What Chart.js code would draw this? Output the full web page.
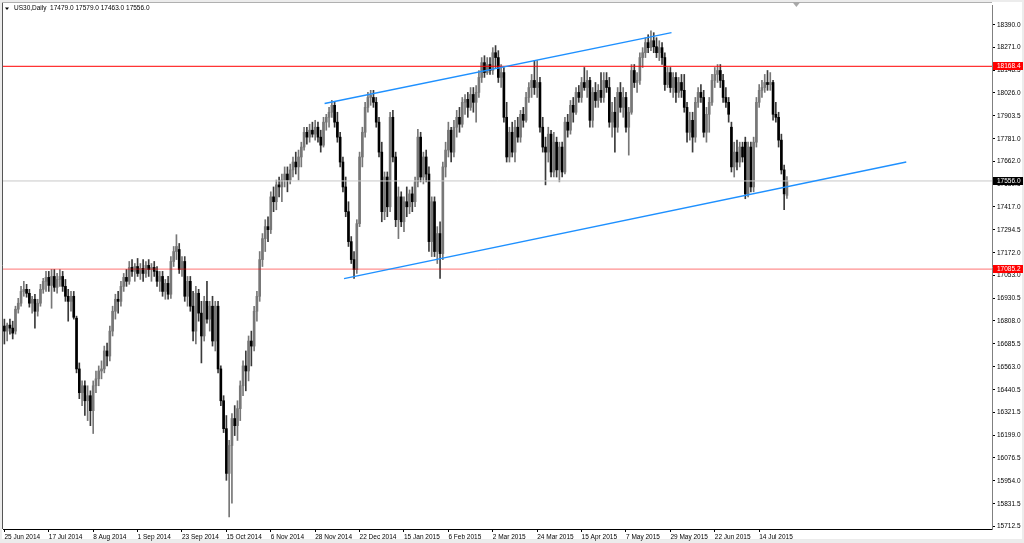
<!DOCTYPE html>
<html><head><meta charset="utf-8">
<script src="https://cdn.jsdelivr.net/npm/chart.js@4.4.1/dist/chart.umd.min.js"></script>
<style>html,body{margin:0;padding:0;background:#fff;overflow:hidden}#wrap{width:1024px;height:543px;position:relative}</style>
</head><body><div id="wrap"><canvas id="c" width="1024" height="543"></canvas></div>
<script>
const chartTitle = "US30,Daily";
const lastQuote = [17479.0, 17579.0, 17463.0, 17556.0];

const open = [16781,16754,16786,16770,16754,16871,16903,16966,16977,16956,
16903,16924,16860,16903,16977,17020,17041,16998,17046,16988,
17030,17046,16993,16940,16913,16940,16823,16552,16425,16462,
16382,16409,16329,16462,16499,16541,16552,16648,16621,16754,
16860,16924,16913,16993,17041,17020,17094,17073,17099,17062,
17089,17062,17105,17083,17094,17073,17020,17046,16966,17009,
16951,17126,17179,17190,17083,17126,16940,17020,16887,16754,
16956,16850,16728,16913,16818,16887,16701,16887,16552,16382,
16233,15994,16143,16287,16249,16340,16462,16568,16541,16701,
16674,16860,16940,17136,17248,17312,17296,17471,17445,17535,
17524,17561,17593,17561,17615,17657,17631,17684,17737,17816,
17790,17827,17806,17843,17790,17747,17870,17896,17923,17960,
17870,17790,17657,17524,17392,17232,17136,17083,17328,17684,
17816,17949,18002,18002,17976,17870,17710,17392,17577,17418,
17896,17684,17349,17471,17338,17445,17418,17487,17445,17551,
17790,17577,17684,17593,17232,17445,17179,17275,17168,17631,
17721,17827,17710,17843,17896,17859,17976,17992,17949,18018,
17976,18029,18109,18188,18135,18178,18146,18241,18215,18109,
18135,17896,17684,17816,17710,17843,17790,17912,17880,18002,
18055,18093,18055,18082,17843,17737,17710,17806,17604,17763,
17615,17737,17604,17870,17827,17960,17923,18029,18002,18082,
18055,18093,17880,18029,17986,18040,18002,18093,18055,17870,
17923,17843,18029,17949,18002,17843,17923,18146,18082,18093,
18215,18241,18295,18268,18305,18273,18241,18268,18215,18071,
18135,18055,18109,18029,18082,18040,17949,17816,17880,17790,
17976,18029,18002,17816,17912,17976,18093,18125,18146,18093,
18002,17976,17843,17631,17710,17657,17737,17763,17487,17737,
17524,17763,17976,18040,18055,18082,18071,18082,17912,17896,
17774,17615,17479];

const high = [16818,16797,16818,16807,16887,16929,16993,17020,17004,16977,
16940,16951,16924,17004,17036,17073,17073,17083,17083,17062,
17083,17073,17030,16977,16966,16966,16834,16584,16488,16488,
16462,16435,16488,16541,16568,16595,16674,16690,16781,16887,
16951,16966,17020,17062,17083,17126,17136,17115,17142,17115,
17136,17126,17136,17115,17126,17099,17073,17073,17030,17046,
17152,17206,17269,17222,17152,17152,17046,17046,16966,16993,
16977,16913,16940,17020,16913,16940,16913,16913,16568,16409,
16303,16170,16313,16356,16382,16488,16595,16648,16728,16754,
16887,16966,17179,17275,17349,17365,17498,17524,17561,17577,
17593,17631,17631,17646,17684,17710,17721,17763,17843,17843,
17859,17870,17880,17870,17827,17896,17912,17949,17986,17976,
17923,17816,17684,17577,17445,17259,17179,17349,17710,17843,
17976,18029,18040,18040,18002,17896,17763,17604,17604,17923,
17933,17710,17524,17498,17471,17524,17508,17524,17577,17832,
17816,17710,17721,17631,17471,17471,17312,17338,17657,17763,
17870,17843,17880,17933,17949,18002,18018,18029,18055,18055,
18066,18146,18215,18225,18215,18215,18268,18279,18252,18178,
18162,17976,17843,17870,17880,17896,17933,17949,18029,18082,
18125,18199,18199,18109,17896,17790,17843,17827,17816,17790,
17763,17763,17896,17912,17986,18002,18055,18066,18109,18162,
18146,18109,18055,18082,18071,18135,18135,18135,18109,17976,
18002,18055,18082,18055,18029,17949,18178,18178,18135,18241,
18268,18321,18337,18358,18348,18321,18305,18295,18241,18162,
18162,18135,18135,18109,18125,18125,17976,17923,17923,18002,
18055,18071,18040,17949,18002,18125,18162,18178,18178,18125,
18055,18002,17870,17763,17774,17763,17763,17790,17763,17763,
17790,18002,18071,18093,18125,18146,18135,18093,17976,17923,
17806,17641,17579];

const low = [16685,16701,16738,16712,16738,16850,16887,16940,16935,16882,
16850,16770,16834,16887,16956,16966,16966,16876,16966,16956,
16993,16966,16913,16807,16860,16818,16531,16393,16356,16303,
16276,16249,16207,16425,16462,16499,16531,16568,16595,16728,
16818,16850,16887,16966,16993,17004,17046,17020,17046,17030,
17020,17041,17046,17020,17046,16993,16966,16940,16924,16924,
16929,17099,17136,17062,17046,16913,16887,16860,16701,16685,
16807,16584,16701,16797,16754,16674,16648,16531,16356,16212,
15957,15761,15835,16196,16170,16276,16409,16435,16488,16568,
16648,16807,16913,17099,17179,17232,17275,17392,17402,17471,
17445,17524,17498,17540,17577,17593,17561,17631,17721,17753,
17763,17790,17774,17763,17710,17737,17827,17843,17896,17843,
17763,17631,17498,17365,17206,17115,17036,17062,17312,17631,
17790,17923,17960,17949,17843,17684,17338,17349,17365,17392,
17657,17312,17248,17312,17285,17365,17381,17392,17418,17524,
17551,17540,17551,17179,17152,17152,17115,17036,17136,17577,
17684,17657,17684,17790,17816,17843,17912,17896,17933,17923,
17870,18002,18082,18109,18125,18125,18125,18162,18082,18055,
17870,17657,17657,17684,17657,17763,17763,17843,17870,17976,
18002,18018,18002,17816,17710,17535,17657,17577,17577,17577,
17551,17577,17593,17790,17806,17870,17912,17976,17976,18040,
18002,17843,17843,17949,17949,17976,17976,18029,17843,17790,
17710,17816,17923,17896,17816,17694,17912,18055,18029,18071,
18162,18215,18241,18252,18241,18215,18199,18178,18040,18055,
18029,18002,17976,18002,18002,17923,17763,17774,17710,17763,
17949,17976,17790,17763,17816,17960,18055,18082,18055,17976,
17949,17870,17604,17577,17615,17631,17657,17461,17471,17498,
17498,17737,17949,18002,18029,18040,18040,17880,17870,17737,
17593,17402,17463];

const close = [16754,16786,16770,16743,16871,16903,16966,16977,16956,16903,
16924,16860,16903,16977,17020,17041,16998,17046,16988,17030,
17046,16993,16940,16913,16940,16828,16552,16425,16462,16382,
16409,16329,16462,16499,16541,16552,16648,16621,16754,16860,
16924,16913,16993,17041,17020,17094,17073,17099,17062,17089,
17062,17105,17083,17094,17073,17020,17046,16966,17009,16951,
17126,17179,17206,17083,17126,16940,17020,16887,16754,16956,
16850,16728,16913,16818,16887,16701,16887,16552,16382,16233,
15994,16143,16287,16249,16340,16462,16568,16541,16701,16674,
16860,16940,17136,17248,17312,17296,17471,17445,17535,17524,
17561,17593,17561,17615,17657,17631,17684,17737,17816,17790,
17827,17806,17843,17790,17747,17870,17896,17923,17960,17870,
17790,17657,17524,17392,17232,17136,17083,17328,17684,17816,
17949,18002,18013,17976,17870,17710,17392,17577,17418,17896,
17684,17349,17471,17338,17445,17418,17487,17445,17551,17790,
17577,17684,17593,17232,17445,17179,17275,17168,17631,17721,
17827,17710,17843,17896,17859,17976,17992,17949,18018,17976,
18029,18109,18188,18135,18178,18146,18241,18215,18109,18135,
17896,17684,17816,17710,17843,17790,17912,17880,18002,18055,
18093,18055,18082,17843,17737,17710,17806,17604,17763,17615,
17737,17604,17870,17827,17960,17923,18029,18002,18082,18055,
18093,17880,18029,17986,18040,18002,18093,18055,17870,17923,
17843,18029,17949,18002,17843,17923,18146,18082,18093,18215,
18241,18295,18268,18305,18273,18241,18268,18215,18071,18135,
18055,18109,18029,18082,18040,17949,17816,17880,17790,17976,
18029,18002,17816,17912,17976,18093,18125,18146,18093,18002,
17976,17912,17631,17710,17657,17737,17684,17487,17737,17524,
17763,17976,18040,18055,18082,18071,18082,17912,17896,17774,
17615,17487,17556];

const dateLabels = ["25 Jun 2014","17 Jul 2014","8 Aug 2014","1 Sep 2014","23 Sep 2014","15 Oct 2014","6 Nov 2014","28 Nov 2014","22 Dec 2014","15 Jan 2015","6 Feb 2015","2 Mar 2015","24 Mar 2015","15 Apr 2015","7 May 2015","29 May 2015","22 Jun 2015","14 Jul 2015"];
const dateLabelBars = [0,16,32,48,64,80,96,112,128,144,160,176,192,208,224,240,256,272];
const priceTicks = [18390.0,18271.0,18148.5,18026.0,17903.5,17781.0,17662.0,17539.5,17417.0,17294.5,17172.0,17053.0,16930.5,16808.0,16685.5,16563.0,16440.5,16321.5,16199.0,16076.5,15954.0,15831.5,15712.5];

const resistanceLevel = 18168.4;
const supportLevel = 17085.2;
const bidLevel = 17556.0;
const channelUpper = [{x:115.4, y:17970}, {x:240.4, y:18348}];
const channelLower = [{x:122.4, y:17034}, {x:325.0, y:17657}];

// view (options)
const X_MIN = -0.5, X_MAX = 355.9, Y_MIN = 15697, Y_MAX = 18491;
const SHIFT_MARK_BAR = 285.4;
const FONT = '"Liberation Sans", Arial, sans-serif';
const FS = 6.5;
const BULL = '#777777', BEAR = '#000000', WICK = '#3a3a3a';

const bars = close.map((_, i) => i);
const isBull = i => close[i] >= open[i];

const framePlugin = {
  id: 'frame',
  beforeDraw(chart) {
    const c = chart.ctx;
    c.save();
    c.fillStyle = '#ececec'; c.fillRect(0, 0, 1024, 543);
    c.fillStyle = '#ffffff'; c.fillRect(2, 2, 1020, 537);
    c.restore();
  },
  afterDraw(chart) {
    const c = chart.ctx, a = chart.chartArea, ys = chart.scales.y, xs = chart.scales.x;
    c.save();
    c.strokeStyle = '#555'; c.lineWidth = 1;
    c.beginPath(); c.moveTo(2.5, 2); c.lineTo(2.5, a.bottom); c.stroke();
    c.strokeStyle = '#b0b0b0';
    c.beginPath(); c.moveTo(2, 2.5); c.lineTo(a.right, 2.5); c.stroke();
    // price tags
    const tags = [[resistanceLevel, '#ff0000'], [bidLevel, '#000000'], [supportLevel, '#ff0000']];
    c.font = FS + 'px ' + FONT; c.textBaseline = 'middle'; c.textAlign = 'left';
    tags.forEach(([v, bg]) => {
      const py = Math.round(ys.getPixelForValue(v));
      c.fillStyle = bg; c.fillRect(a.right + 1, py - 4, 30, 8);
      c.fillStyle = '#ffffff'; c.fillText(v.toFixed(1), a.right + 5, py + 0.5);
    });
    // title
    c.fillStyle = '#000';
    c.beginPath(); c.moveTo(5, 7.5); c.lineTo(9, 7.5); c.lineTo(7, 10); c.closePath(); c.fill();
    c.fillText(chartTitle + '  ' + lastQuote.map(v => v.toFixed(1)).join(' '), 14, 8.5);
    // chart shift marker
    const sx = xs.getPixelForValue(SHIFT_MARK_BAR);
    c.fillStyle = '#a8a8a8';
    c.beginPath(); c.moveTo(sx - 4, 2); c.lineTo(sx + 4, 2); c.lineTo(sx, 7); c.closePath(); c.fill();
    c.restore();
  }
};

const hLine = (v, color) => ({
  type: 'line', data: [{x: X_MIN, y: v}, {x: X_MAX, y: v}],
  borderColor: color, borderWidth: 1, pointRadius: 0, tension: 0, order: 1
});

new Chart(document.getElementById('c'), {
  type: 'bar',
  data: {
    datasets: [
      hLine(bidLevel, '#c8c8c8'),
      hLine(supportLevel, 'rgba(255,0,0,0.55)'),
      hLine(resistanceLevel, '#ff0000'),
      { type: 'line', data: channelUpper, borderColor: '#1e90ff', borderWidth: 1.4, pointRadius: 0, order: 0 },
      { type: 'line', data: channelLower, borderColor: '#1e90ff', borderWidth: 1.4, pointRadius: 0, order: 0 },
      { label: 'body', data: bars.map(i => ({x: i, y: [open[i], close[i]]})),
        backgroundColor: ctx => isBull(ctx.dataIndex) ? BULL : BEAR,
        barThickness: 2, minBarLength: 1, grouped: false, order: 2 },
      { label: 'wick', data: bars.map(i => ({x: i, y: [low[i], high[i]]})),
        backgroundColor: ctx => isBull(ctx.dataIndex) ? BULL : WICK,
        barThickness: 1, grouped: false, order: 3 }
    ]
  },
  options: {
    responsive: false, animation: false, devicePixelRatio: 1, events: [],
    layout: { padding: { left: 3, top: 3, right: 0, bottom: 0 } },
    plugins: { legend: { display: false }, tooltip: { enabled: false }, title: { display: false } },
    scales: {
      x: {
        type: 'linear', position: 'bottom', min: X_MIN, max: X_MAX, offset: false,
        grid: { offset: false, drawOnChartArea: false, drawTicks: true, tickLength: 3, color: '#000' },
        border: { display: true, color: '#000' },
        afterBuildTicks: s => { s.ticks = dateLabelBars.map(v => ({value: v})); },
        afterFit: s => { s.height = 14; },
        ticks: { autoSkip: false, maxRotation: 0, align: 'start', padding: 1, color: '#000',
          font: { family: FONT, size: FS },
          callback: v => dateLabels[dateLabelBars.indexOf(v)] }
      },
      y: {
        type: 'linear', position: 'right', min: Y_MIN, max: Y_MAX, beginAtZero: false,
        grid: { drawOnChartArea: false, drawTicks: true, tickLength: 3, color: '#000' },
        border: { display: true, color: '#808080' },
        afterBuildTicks: s => { s.ticks = priceTicks.map(v => ({value: v})); },
        afterFit: s => { s.width = 32; },
        ticks: { autoSkip: false, padding: 2, color: '#000', font: { family: FONT, size: FS },
          callback: v => v.toFixed(1) }
      }
    }
  },
  plugins: [framePlugin]
});
</script>
</body></html>
